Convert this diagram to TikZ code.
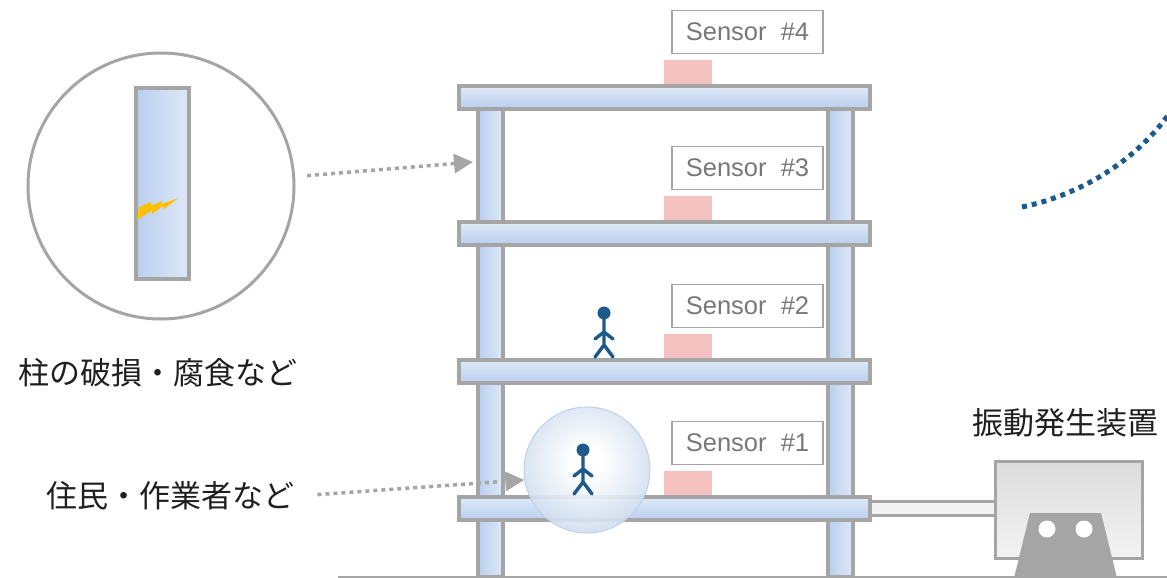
\documentclass[tikz,border=0pt]{standalone}
\usepackage{fontspec}
\setmainfont{Liberation Sans}
\newfontfamily\jpfont{Noto Sans CJK JP}
\usetikzlibrary{arrows.meta,positioning}

\definecolor{framegray}{HTML}{A5A5A5}
\definecolor{slablight}{HTML}{DFE9F7}
\definecolor{slabdark}{HTML}{B9CEEE}
\definecolor{padpink}{HTML}{F4C0C0}
\definecolor{manblue}{HTML}{1B5A8A}
\definecolor{boltyellow}{HTML}{FFC000}
\definecolor{bubbleblue}{HTML}{BBCFE8}
\definecolor{textgray}{HTML}{787878}
\definecolor{boxtop}{HTML}{DCDCDC}
\definecolor{boxbottom}{HTML}{F3F3F3}

% white core, light blue rim
\pgfdeclareradialshading{bubbleshade}{\pgfpoint{0bp}{4bp}}{color(0bp)=(white); color(6bp)=(white); color(26bp)=(bubbleblue!65); color(50bp)=(bubbleblue); color(72bp)=(bubbleblue)}

\begin{document}
\begin{tikzpicture}[x=1pt,y=-1pt,
    slab/.style={draw=framegray, line width=3.2pt, top color=slablight, bottom color=slabdark},
    pillar/.style={draw=framegray, line width=3.2pt, left color=slabdark, right color=slablight},
    sensorlabel/.style={draw=framegray, line width=1.3pt, fill=white, text=textgray,
      minimum width=151pt, minimum height=43pt, inner sep=0pt, font=\fontsize{25.5}{29}\selectfont},
    pad/.style={fill=padpink},
    hint/.style={draw=framegray, line width=3.5pt, dash pattern=on 4pt off 4pt,
      -{Triangle[length=19pt,width=19pt]}},
    jplabel/.style={font=\jpfont\fontsize{31}{36}\selectfont, text=black!88},
    walker/.style={draw=manblue, line width=3.4pt, line cap=round, line join=round}]
  \useasboundingbox (0,0) rectangle (1167,578);

  % ground
  \draw[framegray, line width=3pt] (338,577) -- (1167,577);

  % columns, then the rod to the shaker
  \foreach \x in {478,828}
    \draw[pillar] (\x,98) rectangle (\x+25,577);
  \draw[draw=framegray, line width=3pt, fill=boxbottom] (860,501) rectangle (995,515);

  % floors with sensor pads and labels
  \foreach \y [count=\i] in {497,360,222,86} {
    \fill[pad] (664,\y-26) rectangle (712,\y);
    \draw[slab] (459,\y) rectangle (870,\y+23);
    \node[sensorlabel] (sensor\i) at (747.5,\y-54) {Sensor\ \ \#\i};
  }

  % highlight around the resident
  \node[circle, minimum size=126pt, inner sep=0pt, draw=bubbleblue, line width=1pt,
    shading=bubbleshade, shade, fill opacity=0.9, draw opacity=0.9] (bubble) at (587,470) {};

  % residents
  \foreach \px/\py in {583/497, 604/360} {
    \fill[manblue] (\px,\py-47) circle (6.5pt);
    \draw[walker] (\px,\py-41) -- (\px,\py-15)
      (\px-9,\py-21) -- (\px,\py-28) -- (\px+9,\py-21)
      (\px-9,\py-3) -- (\px,\py-15) -- (\px+9,\py-3);
  }

  % close-up of a damaged column
  \node[circle, draw=framegray, line width=3pt, minimum size=266pt, inner sep=0pt] (zoom) at (161,186) {};
  \draw[pillar] (136,88) rectangle (189,279);
  \fill[boltyellow] (137,220) -- (139,207) -- (151,202) -- (151,206) -- (162,201)
    -- (162,204) -- (178,198) -- (164,209) -- (163,206) -- (152,214) -- (152,210) -- cycle;

  % labels
  \node[jplabel] (damage) at (158,373) {柱の破損・腐食など};
  \node[jplabel] (people) at (170,496) {住民・作業者など};
  \node[jplabel] (shakerlabel) at (1065,423) {振動発生装置};

  % pointers
  \coordinate (colhit) at (473,162);
  \draw[hint, shorten <=12pt] (zoom.4) -- (colhit);
  \draw[hint, shorten <=20pt] (people.east) -- (bubble.189);

  % shaker
  \draw[draw=framegray, line width=3pt, top color=boxtop, bottom color=boxbottom] (995,461) rectangle (1142,558);
  \fill[framegray] (1030,513) -- (1101,513) -- (1117,578) -- (1014,578) -- cycle;
  \fill[white] (1047,529) circle (8.5pt) (1084,529) circle (8.5pt);

  % wave towards the sensors
  \draw[manblue, line width=5pt, dash pattern=on 5pt off 5pt] (1022,207) .. controls (1080,195) and (1140,160) .. (1175,105);
\end{tikzpicture}
\end{document}
